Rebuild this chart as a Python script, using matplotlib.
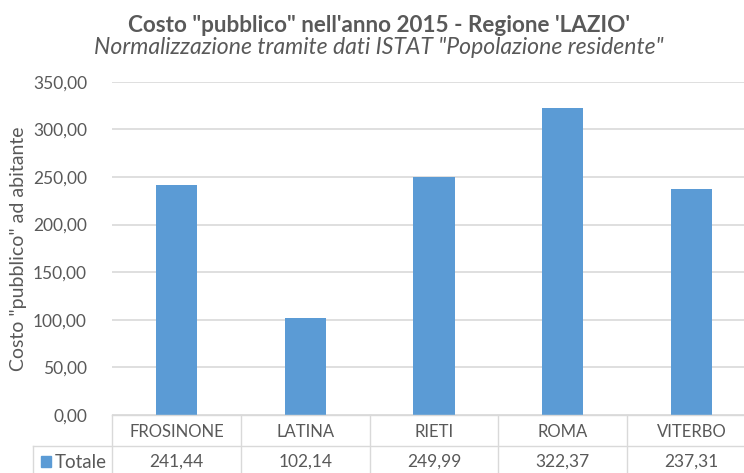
import matplotlib
matplotlib.use("Agg")
import matplotlib.pyplot as plt
from matplotlib.transforms import blended_transform_factory
from matplotlib.lines import Line2D
from matplotlib.ticker import FuncFormatter

categories = ["FROSINONE", "LATINA", "RIETI", "ROMA", "VITERBO"]
values = [241.44, 102.14, 249.99, 322.37, 237.31]
series_name = "Totale"
yticks = [0, 50, 100, 150, 200, 250, 300, 350]
title = "Costo \"pubblico\" nell'anno 2015 - Regione 'LAZIO'"
subtitle = "Normalizzazione tramite dati ISTAT \"Popolazione residente\""
ylabel = "Costo \"pubblico\" ad abitante"

def fmt(v):
    return f"{v:.2f}".replace(".", ",")

BAR = "#5B9BD5"
TXT = "#595959"
GRID = "#D9D9D9"
FONT = "Lato"

W, H = 744, 473
fig = plt.figure(figsize=(W/100, H/100), dpi=100)
plt.rcParams['font.family'] = [FONT, 'DejaVu Sans']

x0, x1 = 112, 756
ytop, ybot = 81.7, 415
ax = fig.add_axes([x0/W, 1-ybot/H, (x1-x0)/W, (ybot-ytop)/H])
ax.set_xlim(-0.5, len(categories)-0.5)
ax.set_ylim(0, 350)
ax.bar(range(len(categories)), values, width=0.32, color=BAR, zorder=3)
ax.set_yticks(yticks)
ax.yaxis.set_major_formatter(FuncFormatter(lambda v, p: fmt(v)))
ax.tick_params(axis='y', length=0, pad=18, labelsize=12.5, labelcolor=TXT)
ax.set_xticks([])
for s in ax.spines.values():
    s.set_visible(False)
ax.grid(axis='y', color=GRID, linewidth=1.2, zorder=0)
ax.set_axisbelow(True)
ax.set_ylabel(ylabel, fontsize=14, color=TXT)
ax.yaxis.set_label_coords((19-x0)/(x1-x0), 0.5)
ax.yaxis.label.set_va('center')

# data table
trans = blended_transform_factory(ax.transData, fig.transFigure)
def fy(py):
    return 1 - py/H
row1_top, row2_top, row_bot = 415, 446, 480
n = len(categories)
lw = 1.0
fig.add_artist(Line2D([x0/W, 1.1], [fy(row1_top)]*2, transform=fig.transFigure, color=GRID, lw=lw))
fig.add_artist(Line2D([33/W, 1.1], [fy(row2_top)]*2, transform=fig.transFigure, color=GRID, lw=lw))
for i in range(n+1):
    fig.add_artist(Line2D([i-0.5, i-0.5], [fy(row1_top), fy(row_bot)], transform=trans, color=GRID, lw=lw))
fig.add_artist(Line2D([33/W, 33/W], [fy(row2_top), fy(row_bot)], transform=fig.transFigure, color=GRID, lw=lw))
for i, (c, v) in enumerate(zip(categories, values)):
    fig.text(i, fy((row1_top+row2_top)/2+1), c, transform=trans, ha='center', va='center',
             fontsize=12, color=TXT)
    fig.text(i, fy(462), fmt(v), transform=trans, ha='center', va='center',
             fontsize=12.5, color=TXT)
fig.patches.append(plt.Rectangle((41/W, fy(467)), 10/W, 11/H, transform=fig.transFigure, color=BAR))
fig.text(55/W, fy(462), series_name, ha='left', va='center', fontsize=13.5, color=TXT)

fig.text(379/W, fy(25), title, ha='center', va='center', fontsize=16.2, fontweight='bold', color=TXT)
fig.text(378.5/W, fy(47), subtitle, ha='center', va='center', fontsize=16.6, style='italic', color=TXT)

fig.savefig("out.png", dpi=100)
